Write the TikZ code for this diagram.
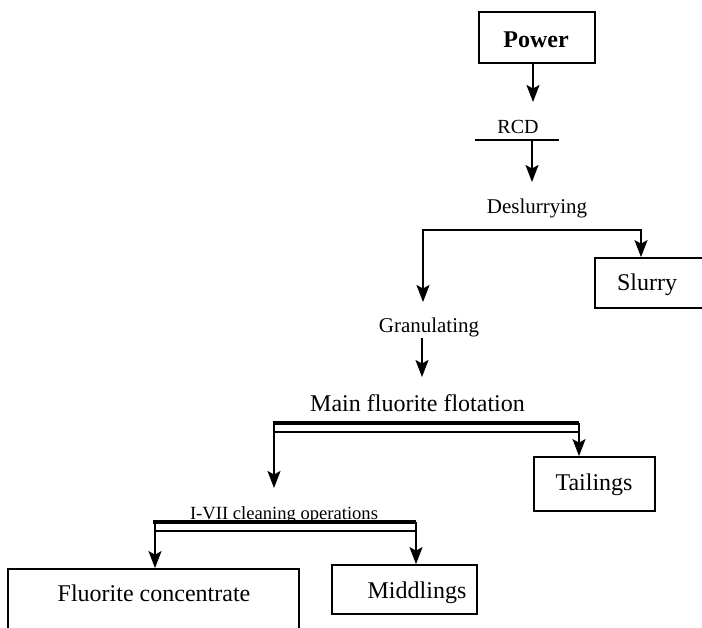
\documentclass[tikz,border=0pt]{standalone}
\usepackage{fontspec}
\setmainfont{Liberation Serif}
\usetikzlibrary{arrows.meta}
\begin{document}
\begin{tikzpicture}[x=1pt,y=-1pt,
  boxn/.style={draw,line width=1.8pt,inner sep=0pt},
  big/.style={inner sep=0pt,anchor=base,font=\fontsize{24}{28}\selectfont},
  lbl/.style={inner sep=0pt,anchor=base,font=\fontsize{21}{24}\selectfont},
  arr/.style={line width=1.7pt,-{Stealth[length=17pt,width=13pt,inset=3.5pt]}},
  ln/.style={line width=1.7pt},
  heavybar/.style={line width=4.5pt},
  thinbar/.style={line width=2pt},
]
\useasboundingbox (0,0) rectangle (702,627);

% boxes
\node[boxn,minimum width=116pt,minimum height=51pt] (powerbox) at (537,37.5) {};
\node[big,font=\bfseries\fontsize{24}{28}\selectfont] (power) at (536,47) {Power};
\node[boxn,minimum width=120pt,minimum height=50pt] (slurrybox) at (655,283) {};
\node[big] (slurry) at (647,290) {Slurry};
\node[boxn,minimum width=121pt,minimum height=54pt] (tailbox) at (594.5,484) {};
\node[big] (tail) at (594,490) {Tailings};
\node[boxn,minimum width=291pt,minimum height=90pt] (fcbox) at (153.5,614) {};
\node[big] (fc) at (154,601) {Fluorite concentrate};
\node[boxn,minimum width=145pt,minimum height=49pt] (midbox) at (404.5,589.5) {};
\node[big] (mid) at (417,598) {Middlings};

% labels
\node[lbl,font=\fontsize{20}{24}\selectfont] (rcd) at (518,133) {RCD};
\node[lbl] (desl) at (537,213) {Deslurrying};
\node[lbl] (gran) at (429,332) {Granulating};
\node[big] (main) at (417.5,411) {Main fluorite flotation};
\node[lbl,font=\fontsize{18.6}{22}\selectfont] (clean) at (284,519) {I-VII cleaning operations};

% coordinates
\coordinate (p1) at (533,102);
\coordinate (rcdL) at (475,140);
\coordinate (rcdR) at (559,140);
\coordinate (r0) at (532,140);
\coordinate (r1) at (532,182);
\coordinate (brL) at (423,230);
\coordinate (brR) at (641,230);
\coordinate (g0) at (423,302);
\coordinate (gr0) at (422,338);
\coordinate (gr1) at (422,377);
\coordinate (mL) at (273,423);
\coordinate (mR) at (579,423);
\coordinate (mtL) at (275,432);
\coordinate (mtR) at (579,432);
\coordinate (mv) at (274,423);
\coordinate (mv1) at (274,488);
\coordinate (cL) at (153,522);
\coordinate (cR) at (416,522);
\coordinate (ctL) at (155,531);
\coordinate (ctR) at (416,531);
\coordinate (cv) at (155,522);

% connectors
\draw[arr] (powerbox.south -| p1) -- (p1);
\draw[line width=2.4pt] (rcdL) -- (rcdR);
\draw[arr] (r0) -- (r1);
\draw[arr] (brR) -- (brL) -- (g0);
\draw[arr] (brL) -- (brR) -- (slurrybox.north -| brR);
\draw[arr] (gr0) -- (gr1);
\draw[heavybar] (mL) -- (mR);
\draw[thinbar] (mtL) -- (mtR);
\draw[arr] (mv) -- (mv1);
\draw[arr] (mR) -- (tailbox.north -| mR);
\draw[heavybar] (cL) -- (cR);
\draw[thinbar] (ctL) -- (ctR);
\draw[arr] (cv) -- (fcbox.north -| cv);
\draw[arr] (cR) -- (midbox.north -| cR);
\end{tikzpicture}
\end{document}
